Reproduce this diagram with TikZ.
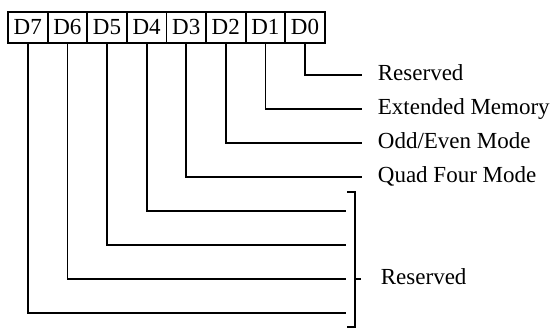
\documentclass[tikz,border=0pt]{standalone}
\usepackage{fontspec}
\setmainfont{Liberation Serif}
\usepackage{tikz}

\begin{document}
\begin{tikzpicture}[x=1pt, y=-1pt, line width=1.8pt,
    every node/.style={font=\fontsize{23}{27}\selectfont},
    bit/.style={draw, minimum width=39.6pt, minimum height=31pt, inner sep=0pt},
    lab/.style={anchor=base west, inner sep=0pt}]
			\useasboundingbox (0,0) rectangle (553,330);
			\foreach \i in {0,...,7}
				\node[bit] (d\i) at ({305-39.6*\i},27.2) {D\i};
			\foreach \i/\y in {0/75,1/109,2/143,3/177}
				\coordinate (e\i) at (362,\y);
			\foreach \i/\y in {4/211,5/245,6/279,7/313}
				\coordinate (e\i) at (346,\y);
			\foreach \i in {0,...,7}
				\draw (d\i.south) |- (e\i);
			\node[lab] (r0) at ([shift={(15,5)}]e0) {Reserved};
			\node[lab] (r1) at ([shift={(15,5)}]e1) {Extended Memory};
			\node[lab] (r2) at ([shift={(15,5)}]e2) {Odd/Even Mode};
			\node[lab] (r3) at ([shift={(15,5)}]e3) {Quad Four Mode};
			\draw (347,192) -| (355,327) -- (347,327);
			\draw (355,279) -- (361,279);
			\node[lab] (r4) at (380,284) {Reserved};
		\end{tikzpicture}
\end{document}
